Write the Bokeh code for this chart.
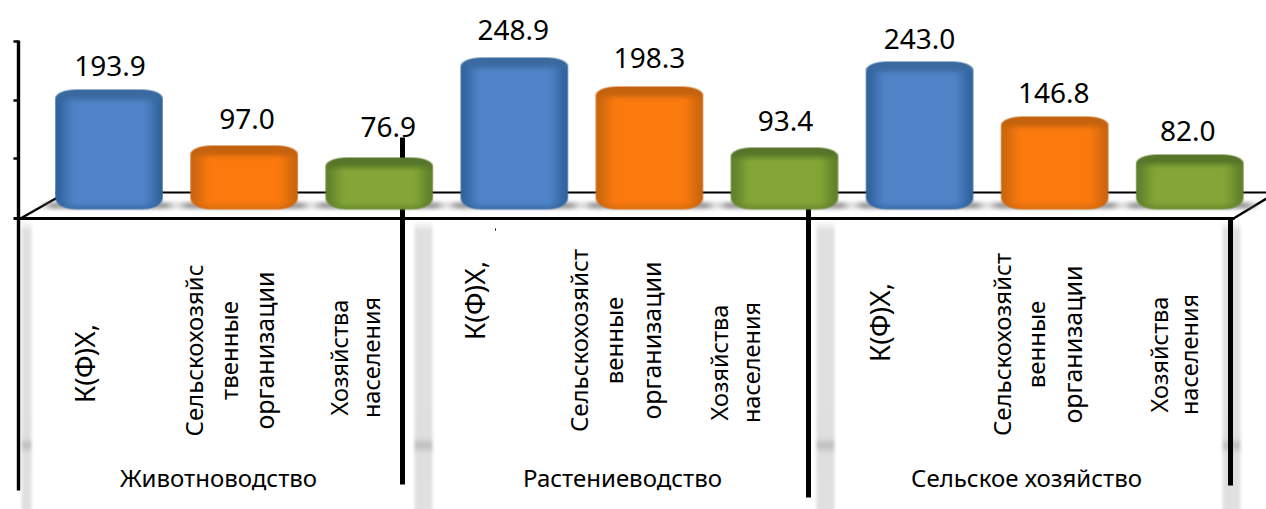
import numpy as np
from bokeh.plotting import figure
from bokeh.models import Range1d
from bokeh.core.properties import value
from bokeh.embed import file_html
from bokeh.resources import INLINE

# ---- data ----
groups = ["Животноводство", "Растениеводство", "Сельское хозяйство"]
categories = [
    ["К(Ф)Х,"], ["Сельскохозяйс", "твенные", "организации"], ["Хозяйства", "населения"],
    ["К(Ф)Х,"], ["Сельскохозяйст", "венные", "организации"], ["Хозяйства", "населения"],
    ["К(Ф)Х,"], ["Сельскохозяйст", "венные", "организации"], ["Хозяйства", "населения"],
]
values = [193.9, 97.0, 76.9, 248.9, 198.3, 93.4, 243.0, 146.8, 82.0]
value_labels = ["193.9", "97.0", "76.9", "248.9", "198.3", "93.4", "243.0", "146.8", "82.0"]

# ---- layout ----
W, H = 1266, 509
STEP, X0 = 135.1, 108.5      # image px per category, first category centre
SCALE, Y0 = 0.581, 201.7     # image px per unit, image y of value 0
def fx(px): return (px - X0) / STEP
def fy(py): return (Y0 - py) / SCALE

FONT = value("Noto Sans")
p = figure(width=W, height=H, output_backend="svg", toolbar_location=None,
           x_range=Range1d(fx(0), fx(W)), y_range=Range1d(fy(H), fy(0)),
           min_border=0, outline_line_color=None, background_fill_color="white",
           border_fill_color="white")
p.axis.visible = False
p.grid.visible = False

def rgb(h): return np.array([int(h[i:i + 2], 16) for i in (1, 3, 5)], float)
def pack(r, g, b, a):
    out = (np.clip(a, 0, 255).astype(np.uint32) << 24) | (np.clip(b, 0, 255).astype(np.uint32) << 16) \
        | (np.clip(g, 0, 255).astype(np.uint32) << 8) | np.clip(r, 0, 255).astype(np.uint32)
    return out[::-1]

def sstep(t):
    t = np.clip(t, 0, 1)
    return t * t * (3 - 2 * t)

def cylinder(w, h, mid, edge, cap):
    mid, edge, cap = rgb(mid), rgb(edge), rgb(cap)
    xs = np.arange(w) + .5 - w / 2
    vs = np.arange(h) + .5
    X, V = np.meshgrid(xs, vs)
    U = np.abs(X) / (w / 2)
    e = sstep((U - .6) / .4) * .95
    capb = 1 - sstep((V - 5) / 10)
    bot = sstep((V - (h - 9)) / 9) * .55
    col = []
    for c in range(3):
        ch = mid[c] + (edge[c] - mid[c]) * e
        ch = ch + (edge[c] - ch) * bot
        ch = ch + (cap[c] - ch) * capb
        col.append(ch)
    rx, ryt, ryb = 23., 10., 13.
    dx = np.maximum(np.abs(X) - (w / 2 - rx), 0) / rx
    dt = np.maximum(ryt - V, 0) / ryt
    db = np.maximum(V - (h - ryb), 0) / ryb
    d = (dx ** 2.2 + np.maximum(dt, db) ** 2.2) ** (1 / 2.2)
    alpha = np.clip((1 - d) * 10 + .5, 0, 1) * 255
    return pack(col[0], col[1], col[2], alpha)

def soft_shadow(w, h):
    xs = np.arange(w) + .5 - w / 2
    vs = np.arange(h) + .5 - h / 2
    X, V = np.meshgrid(xs, vs)
    ax = sstep((w / 2 - np.abs(X)) / 20)
    ay = sstep((h / 2 - np.abs(V)) / (h / 2))
    g = np.full(X.shape, 110.)
    return pack(g, g, g, ax * ay * 165)

def column_shadow(w, top, bottom, grey=224, blob_y=445):
    h = bottom - top
    xs = np.arange(w) + .5 - w / 2
    vs = np.arange(h) + .5 + top
    X, V = np.meshgrid(xs, vs)
    ax = sstep((w / 2 - np.abs(X)) / 6)
    ay = sstep((V - top) / 14)
    blob = np.exp(-((V - blob_y) / 5.5) ** 2)
    g = grey - 30 * blob
    return pack(g, g, g, ax * ay * 255)

# ---- rear floor edge (behind everything) ----
black = "#000000"
p.segment([fx(55)], [fy(192)], [fx(1266)], [fy(192)], line_color=black, line_width=2.2)
p.segment([fx(20)], [fy(218)], [fx(57)], [fy(197)], line_color=black, line_width=2.4)
p.segment([fx(1233)], [fy(218)], [fx(1266)], [fy(198)], line_color=black, line_width=2.4)

# ---- grey column shadows ----
for cx, w in ((26, 16), (423, 24), (825, 24), (1231, 24)):
    im = column_shadow(w, 218, 509)
    p.image_rgba(image=[im], x=[fx(cx - w / 2)], y=[fy(509)], dw=[w / STEP], dh=[291 / SCALE])

# ---- floor line, axis, separators (separator 1 runs behind the green bar) ----
p.segment([fx(18)], [fy(40)], [fx(18)], [fy(490)], line_color=black, line_width=3.4)
p.segment([fx(13)] * 3, [fy(y) for y in (41, 100, 158)], [fx(18)] * 3, [fy(y) for y in (41, 100, 158)],
          line_color=black, line_width=2.5)
p.segment([fx(402)], [fy(137)], [fx(402)], [fy(484)], line_color=black, line_width=5)
p.segment([fx(808)], [fy(208)], [fx(808)], [fy(497)], line_color=black, line_width=5)
p.segment([fx(1230)], [fy(218)], [fx(1230)], [fy(485)], line_color=black, line_width=5)
p.segment([fx(495)], [fy(228)], [fx(495)], [fy(230)], line_color=black, line_width=1)

# ---- bar ground shadows ----
idx = list(range(len(values)))
for i in idx:
    im = soft_shadow(146, 14)
    p.image_rgba(image=[im], x=[i - 73 / STEP], y=[fy(212)], dw=[146 / STEP], dh=[14 / SCALE])

p.segment([fx(13)], [fy(218)], [fx(1234)], [fy(218)], line_color=black, line_width=3.2)

# ---- bars ----
palette = [("#4F84C8", "#2F629C", "#3A6AA0"),
           ("#FA7A0E", "#C9650F", "#C4620F"),
           ("#84A636", "#5F7F2C", "#587629")]
BOTTOM = fy(209)
BW = 108
colors = [palette[i % 3] for i in idx]
p.vbar(x=idx, top=[v - 5 / SCALE for v in values], bottom=BOTTOM + 5 / SCALE, width=(BW - 20) / STEP,
       fill_color=[c[0] for c in colors], line_color=None)
for i, v in zip(idx, values):
    h = int(round((v - BOTTOM) * SCALE))
    im = cylinder(BW, h, *colors[i])
    p.image_rgba(image=[im], x=[i - BW / 2 / STEP], y=[BOTTOM], dw=[BW / STEP], dh=[h / SCALE])

# ---- value labels ----
label_gap = [24, 27, 31, 28, 29, 27, 22, 24, 24]
label_dx = [1, 3, 9, -1, 0, 1, 0, -1, -2]
for i, v, t, g, d in zip(idx, values, value_labels, label_gap, label_dx):
    p.text([i + d / STEP], [v + g / SCALE], text=[t], text_font=FONT, text_font_size="28px",
           text_color="#000000", text_align="center", text_baseline="alphabetic")

# ---- category labels (vertical) ----
line_x = [[83], [193, 228, 263], [338, 370],
          [473], [578, 613, 650], [718, 750],
          [878], [1001, 1035, 1071], [1158, 1188]]
line_y = [363, 350, 357, 300, 340, 362, 322, 344, 354]
sizes = {"К(Ф)Х,": "28px", "Хозяйства": "23.5px", "населения": "23.5px", "организации": "25px"}
for lines, xs, y in zip(categories, line_x, line_y):
    for s, x in zip(lines, xs):
        p.text([fx(x)], [fy(y)], text=[s], text_font=FONT, text_font_size=sizes.get(s, "24px"), angle=np.pi / 2,
               text_color="#000000", text_align="center", text_baseline="middle")

# ---- group labels ----
for s, x in zip(groups, (218, 622, 1026)):
    p.text([fx(x)], [fy(477)], text=[s], text_font=FONT, text_font_size="24px",
           text_color="#000000", text_align="center", text_baseline="middle")

open("out.html", "w").write(file_html(p, INLINE))
